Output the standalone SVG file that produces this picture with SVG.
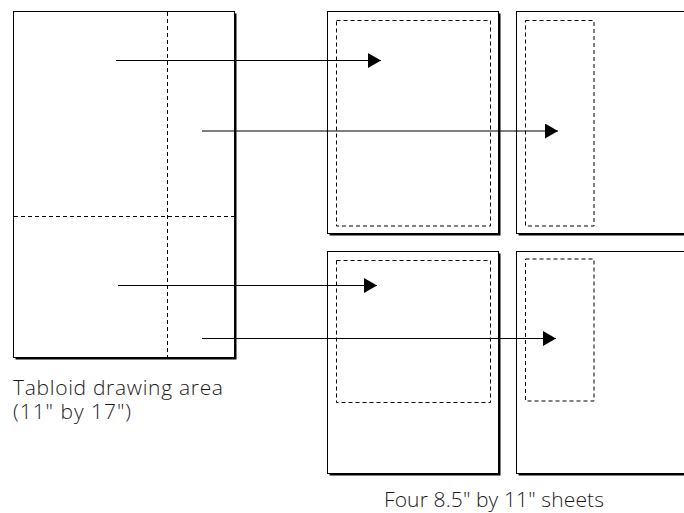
<svg xmlns="http://www.w3.org/2000/svg" width="684" height="513" viewBox="0 0 684 513">
<style>
.shadow{fill:#000;stroke:none}
.sheet{fill:#fff;stroke:#000;stroke-width:1}
.dash{fill:none;stroke:#000;stroke-width:1;stroke-dasharray:4 3}
.arrow{stroke:#000;stroke-width:1.2;fill:none;marker-end:url(#ah)}
.lbl{font-family:"Open Sans","Noto Sans","Liberation Sans",sans-serif;font-weight:300;font-size:21px;fill:#1a1a1a}
</style>
<defs>
<marker id="ah" markerUnits="userSpaceOnUse" markerWidth="14" markerHeight="16" refX="13" refY="7.5" orient="auto">
<path d="M0,0 L13,7.5 L0,15 z" fill="#000"/>
</marker>
</defs>
<rect width="684" height="513" fill="#fff"/>
<g id="tabloid">
<rect class="shadow" x="15.5" y="13.5" width="221" height="346"/>
<rect class="sheet" x="13.5" y="11.5" width="221" height="346"/>
<line class="dash" x1="167.5" y1="12" x2="167.5" y2="357"/>
<line class="dash" x1="14" y1="216.5" x2="234" y2="216.5"/>
<text class="lbl" x="13" y="395" textLength="210" lengthAdjust="spacing">Tabloid drawing area</text>
<text class="lbl" x="13" y="419" textLength="118" lengthAdjust="spacing">(11" by 17")</text>
</g>
<g id="sheet1">
<rect class="shadow" x="329.5" y="13.5" width="171" height="222"/>
<rect class="sheet" x="327.5" y="11.5" width="171" height="222"/>
<rect class="dash" x="336.5" y="20.5" width="154" height="205.5"/>
</g>
<g id="sheet2">
<rect class="shadow" x="518.5" y="13.5" width="200" height="222"/>
<rect class="sheet" x="516.5" y="11.5" width="200" height="222"/>
<rect class="dash" x="525.5" y="20.5" width="68.5" height="205.5"/>
</g>
<g id="sheet3">
<rect class="shadow" x="329.5" y="253.5" width="171" height="222"/>
<rect class="sheet" x="327.5" y="251.5" width="171" height="222"/>
<rect class="dash" x="336.5" y="260.5" width="154" height="142"/>
</g>
<g id="sheet4">
<rect class="shadow" x="518.5" y="253.5" width="200" height="222"/>
<rect class="sheet" x="516.5" y="251.5" width="200" height="222"/>
<rect class="dash" x="525.5" y="259" width="68.5" height="142"/>
</g>
<g id="caption">
<text class="lbl" x="384" y="507" textLength="220" lengthAdjust="spacing">Four 8.5" by 11" sheets</text>
</g>
<g id="connectors">
<line class="arrow" x1="116" y1="60.5" x2="381" y2="60.5"/>
<line class="arrow" x1="202" y1="131" x2="558" y2="131"/>
<line class="arrow" x1="118" y1="285.5" x2="377" y2="285.5"/>
<line class="arrow" x1="202" y1="338.5" x2="556" y2="338.5"/>
</g>
</svg>
